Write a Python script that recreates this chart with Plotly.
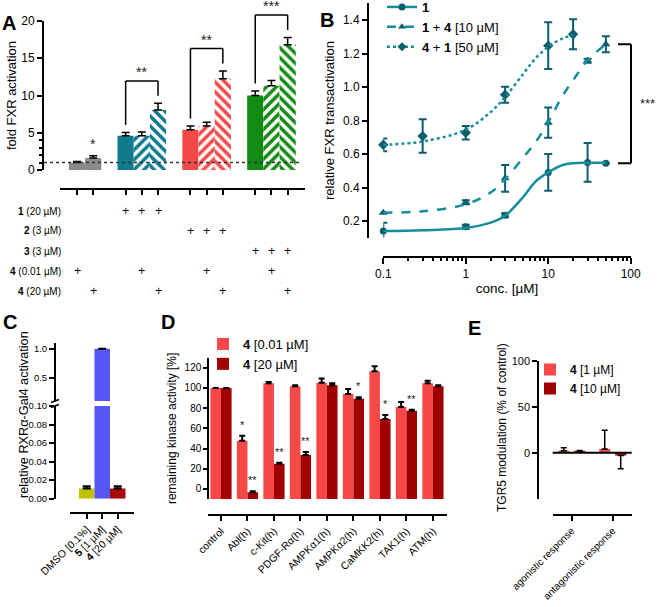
import plotly.graph_objects as go

W, H = 660, 607
def PX(x): return x / W
def PY(y): return 1 - y / H

FONT = "'Liberation Sans', Arial, sans-serif"

# ---------------- DATA ----------------
# Panel A : fold FXR activation, grouped by co-treatment
a_group_values = [[1.0, 1.6], [4.6, 4.6, 8.05], [5.4, 5.9, 12.25], [10.0, 11.3, 16.8]]
a_group_errors = [[0.15, 0.3], [0.45, 0.5, 0.9], [0.5, 0.5, 1.05], [0.6, 0.7, 1.0]]
a_group_stars = ["*", "**", "**", "***"]
a_yticks = [0, 5, 10, 15, 20]
a_row_labels = ["<b>1</b> (20 µM)", "<b>2</b> (3 µM)", "<b>3</b> (3 µM)",
                "<b>4</b> (0.01 µM)", "<b>4</b> (20 µM)"]
a_treatment = [
    [0, 0, 1, 1, 1, 0, 0, 0, 0, 0, 0],
    [0, 0, 0, 0, 0, 1, 1, 1, 0, 0, 0],
    [0, 0, 0, 0, 0, 0, 0, 0, 1, 1, 1],
    [1, 0, 0, 1, 0, 0, 1, 0, 0, 1, 0],
    [0, 1, 0, 0, 1, 0, 0, 1, 0, 0, 1],
]

# Panel B : relative FXR transactivation vs concentration
b_names = ["<b>1</b>", "<b>1</b> + <b>4</b> [10 µM]", "<b>4</b> + <b>1</b> [50 µM]"]
b1_x = [0.1, 1, 3, 10, 30, 50]
b1_y = [0.14, 0.165, 0.235, 0.49, 0.55, 0.545]
b1_e = [0.05, 0.012, 0.012, 0.11, 0.115, None]
b2_x = [0.1, 1, 3, 10, 30, 50]
b2_y = [0.25, 0.312, 0.455, 0.787, 1.157, 1.255]
b2_e = [None, 0.012, 0.08, 0.09, 0.012, 0.048]
b3_x = [0.1, 0.3, 1, 3, 10, 20]
b3_y = [0.655, 0.707, 0.727, 0.954, 1.247, 1.315]
b3_e = [0.038, 0.1, 0.04, 0.048, 0.14, 0.09]
# fitted curves
c1_x = [0.1, 0.3, 1, 2, 3, 5, 7, 10, 15, 20, 30, 50]
c1_y = [0.14, 0.145, 0.158, 0.19, 0.232, 0.345, 0.435, 0.49, 0.534, 0.545, 0.548, 0.548]
c2_x = [0.1, 0.3, 1, 2, 3, 5, 7, 10, 15, 20, 30, 50]
c2_y = [0.25, 0.258, 0.30, 0.37, 0.45, 0.58, 0.67, 0.79, 0.95, 1.04, 1.16, 1.255]
c3_x = [0.1, 0.3, 1, 2, 3, 5, 7, 10, 15, 20]
c3_y = [0.655, 0.675, 0.745, 0.85, 0.94, 1.08, 1.17, 1.24, 1.29, 1.31]
b_xticks = [0.1, 1, 10, 100]
b_yticks = [0.2, 0.4, 0.6, 0.8, 1.0, 1.2, 1.4]

# Panel C : RXRalpha-Gal4 activation
c_labels = ["DMSO [0.1%]", "<b>5</b> [1 µM]", "<b>4</b> [20 µM]"]
c_values = [0.011, 1.0, 0.011]
c_errors = [0.0025, None, 0.0025]
c_low_ticks = [0.0, 0.02, 0.04, 0.06, 0.08, 0.10]
c_high_ticks = [0.5, 1.0]

# Panel D : remaining kinase activity
d_labels = ["control", "Abl(h)", "c-Kit(h)", "PDGF-Rα(h)", "AMPKα1(h)",
            "AMPKα2(h)", "CaMKK2(h)", "TAK1(h)", "ATM(h)"]
d_names = ["<b>4</b> [0.01 µM]", "<b>4</b> [20 µM]"]
d_low = [100, 47.8, 104.5, 101.6, 105.2, 94.0, 116.4, 81.1, 104.5]
d_low_err = [None, 5.0, 1.3, 1.0, 4.0, 5.0, 5.0, 5.0, 2.5]
d_low_stars = ["", "*", "", "", "", "", "", "", ""]
d_high = [100, -3.3, 25.0, 33.6, 102.6, 89.3, 69.2, 77.5, 101.6]
d_high_err = [None, 1.0, 1.0, 3.0, 2.0, 1.5, 4.0, 1.0, 1.0]
d_high_stars = ["", "**", "**", "**", "", "*", "*", "**", ""]
d_yticks = [0, 20, 40, 60, 80, 100, 120]

# Panel E : TGR5 modulation
e_labels = ["agonistic response", "antagonistic response"]
e_names = ["<b>4</b> [1 µM]", "<b>4</b> [10 µM]"]
e_low = [2.0, 4.0]
e_low_err = [3.5, 20.5]
e_high = [1.5, -3.0]
e_high_err = [0.8, 14.5]
e_yticks = [0, 50, 100]

# ---------------- STYLE ----------------
A_COLORS = ['#8a8a8a', '#0f7b8d', '#f44848', '#138a13']
TEAL_LINE = '#178c9c'
TEAL_DARK = '#0c5e6c'
C_COLORS = ['#c2c200', '#5656f2', '#a80a0a']
LIGHT_RED = '#f74848'
DARK_RED = '#a00000'

def f(size, color='black'):
    return dict(size=size, family=FONT, color=color)

fig = go.Figure()

def up_err(errs):
    arr = [e if e is not None else None for e in errs]
    minus = [0 if e is not None else None for e in errs]
    return arr, minus

def note(**kw):
    d = dict(showarrow=False, xanchor='center', yanchor='middle')
    d.update(kw)
    return d

# ---------- Panel A ----------
pos = 0
a_x, a_y, a_e, a_c, a_p = [], [], [], [], []
bounds = []
for gi, (vals, errs) in enumerate(zip(a_group_values, a_group_errors)):
    start = pos
    for bi, (v, e) in enumerate(zip(vals, errs)):
        a_x.append(pos); a_y.append(v); a_e.append(e); a_c.append(A_COLORS[gi])
        a_p.append('' if (len(vals) < 3 or bi == 0) else ('/' if bi == 1 else '\\'))
        pos += 1
    bounds.append((start, pos - 1))
    pos += 1

arr, minus = up_err(a_e)
fig.add_trace(go.Bar(
    x=a_x, y=a_y, width=1.0, xaxis='x', yaxis='y', showlegend=False,
    marker=dict(color=a_c, line=dict(width=0),
                pattern=dict(shape=a_p, fgcolor='black', fgopacity=1, fillmode='overlay',
                             size=7, solidity=0.5)),
    error_y=dict(type='data', symmetric=False, array=arr, arrayminus=minus,
                 color='black', thickness=1.5, width=4)))

A_Y0, A_Y1 = 170, 21  # pixel rows of 0 and 20
def yA(v):
    return PY(A_Y0 + (A_Y1 - A_Y0) * v / 20.0)

shapes = []
annotations = []
# dotted baseline at 1
shapes.append(dict(type='line', xref='paper', yref='y', x0=PX(44), x1=PX(300), y0=1, y1=1,
                   line=dict(color='#333', width=1.5, dash='dot')))
for gi, (s, e) in enumerate(bounds):
    vals = a_group_values[gi]; errs = a_group_errors[gi]
    if len(vals) == 3:
        left = vals[0] + errs[0] + 1.0
        right = vals[-1] + errs[-1] + 1.0
        top = vals[-1] + errs[-1] + 3.0
        for (x0, y0, x1, y1) in [(s, left, s, top), (s, top, e, top), (e, top, e, right)]:
            shapes.append(dict(type='line', xref='x', yref='paper', x0=x0, x1=x1,
                               y0=yA(y0), y1=yA(y1), line=dict(color='black', width=1.5)))
        annotations.append(note(x=(s + e) / 2, xref='x', y=yA(top), yref='paper', yanchor='bottom',
                                yshift=-1, text=a_group_stars[gi], font=f(14, '#222')))
    else:
        annotations.append(note(x=e, xref='x', y=yA(vals[-1] + errs[-1]), yref='paper',
                                yanchor='bottom', yshift=2, text=a_group_stars[gi], font=f(14, '#222')))
# treatment table
for r, row in enumerate(a_treatment):
    ypos = PY(211 + 20 * r)
    annotations.append(note(x=PX(63), xref='paper', xanchor='right', y=ypos, yref='paper',
                            text=a_row_labels[r], font=f(10)))
    for c, flag in enumerate(row):
        if flag:
            annotations.append(note(x=a_x[c], xref='x', y=ypos, yref='paper', text='+', font=f(12.5)))

# ---------- Panel B ----------
for xs, ys, es, sym, size in [(b1_x, b1_y, b1_e, 'circle', 7), (b2_x, b2_y, b2_e, 'triangle-up', 8),
                              (b3_x, b3_y, b3_e, 'diamond', 8)]:
    fig.add_trace(go.Scatter(x=xs, y=ys, mode='markers', xaxis='x2', yaxis='y2', showlegend=False,
                             cliponaxis=False,
                             marker=dict(symbol=sym, size=size, color=TEAL_DARK),
                             error_y=dict(type='data', array=es, color=TEAL_DARK, thickness=2, width=4)))
for xs, ys, dash in [(c1_x, c1_y, 'solid'), (c2_x, c2_y, 'dash'), (c3_x, c3_y, 'dot')]:
    fig.add_trace(go.Scatter(x=xs, y=ys, mode='lines', xaxis='x2', yaxis='y2', showlegend=False,
                             line=dict(color=TEAL_LINE, width=2.5, dash=dash, shape='spline')))
for name, dash, sym in zip(b_names, ['solid', 'dash', 'dot'], ['circle', 'triangle-up', 'diamond']):
    fig.add_trace(go.Scatter(x=[None], y=[None], mode='lines+markers', name=name, xaxis='x2', yaxis='y2',
                             legend='legend',
                             line=dict(color=TEAL_LINE, width=2.5, dash=dash),
                             marker=dict(symbol=sym, size=7, color=TEAL_DARK)))
# significance bracket
for (y0, y1, x0, x1) in [(b2_y[-1], b2_y[-1], PX(618), PX(631)), (b1_y[-1], b1_y[-1], PX(618), PX(631)),
                         (b2_y[-1], b1_y[-1], PX(631), PX(631))]:
    shapes.append(dict(type='line', xref='paper', yref='y2', x0=x0, x1=x1, y0=y0, y1=y1,
                       line=dict(color='black', width=2)))
annotations.append(note(x=PX(647), xref='paper', y=(b2_y[-1] + b1_y[-1]) / 2, yref='y2',
                        text='***', font=f(13, '#222')))

# ---------- Panel C ----------
c_x = list(range(len(c_values)))
arr, minus = up_err(c_errors)
for ya in ['y3', 'y4']:
    fig.add_trace(go.Bar(x=c_x, y=c_values, width=1.0, xaxis='x3', yaxis=ya, showlegend=False,
                         marker=dict(color=C_COLORS, line=dict(width=0)),
                         error_y=dict(type='data', symmetric=False, array=arr, arrayminus=minus,
                                      color='black', thickness=2, width=4)))
# axis break marks
for yy in [401, 406]:
    shapes.append(dict(type='line', xref='paper', yref='paper', x0=PX(51), x1=PX(59),
                       y0=PY(yy + 1.5), y1=PY(yy - 1.5), line=dict(color='black', width=1.5)))
annotations.append(note(x=PX(24), xref='paper', y=PY(415), yref='paper', textangle=-90,
                        text='relative RXRα-Gal4 activation', font=f(12.7)))

# ---------- Panel D ----------
d_x = list(range(len(d_labels)))
for vals, errs, stars, col, name, off in [(d_low, d_low_err, d_low_stars, LIGHT_RED, d_names[0], -0.2),
                                          (d_high, d_high_err, d_high_stars, DARK_RED, d_names[1], 0.2)]:
    arr, minus = up_err(errs)
    fig.add_trace(go.Bar(x=[i + off for i in d_x], y=[v + 10 for v in vals], base=-10, width=0.4,
                         name=name, legend='legend2', xaxis='x5', yaxis='y5',
                         marker=dict(color=col, line=dict(width=0)),
                         error_y=dict(type='data', symmetric=False, array=arr, arrayminus=minus,
                                      color='black', thickness=2, width=3)))
    for i, (v, e, s) in enumerate(zip(vals, errs, stars)):
        if s:
            annotations.append(note(x=i + off, xref='x5', y=v + (e or 0) + 3, yref='y5', yanchor='bottom',
                                    text=s, font=f(11, '#222')))

# ---------- Panel E ----------
e_x = list(range(len(e_labels)))
for vals, errs, col, name, off in [(e_low, e_low_err, LIGHT_RED, e_names[0], -0.195),
                                   (e_high, e_high_err, DARK_RED, e_names[1], 0.195)]:
    arr = [e if v >= 0 else 0 for v, e in zip(vals, errs)]
    minus = [e if v < 0 else 0 for v, e in zip(vals, errs)]
    fig.add_trace(go.Bar(x=[i + off for i in e_x], y=vals, width=0.27, name=name, legend='legend3',
                         xaxis='x6', yaxis='y6', marker=dict(color=col, line=dict(width=0)),
                         error_y=dict(type='data', symmetric=False, array=arr, arrayminus=minus,
                                      color='black', thickness=1.5, width=3)))
shapes.append(dict(type='line', xref='x6 domain', yref='y6', x0=0, x1=1, y0=0, y1=0,
                   line=dict(color='black', width=2), layer='above'))
annotations.append(note(x=PX(502), xref='paper', y=PY(428), yref='paper', textangle=-90,
                        text='TGR5 modulation (% of control)', font=f(12)))

# panel letters
for letter, x, y in [('A', 9, 23), ('B', 327, 20), ('C', 10, 322), ('D', 168, 322), ('E', 474, 328)]:
    annotations.append(note(x=PX(x), y=PY(y), xref='paper', yref='paper', text=f'<b>{letter}</b>',
                            font=f(20)))

# ---------------- AXES ----------------
def ax(**kw):
    base = dict(showline=True, linewidth=2, linecolor='black', ticks='outside', ticklen=5,
                tickwidth=2, tickcolor='black', showgrid=False, zeroline=False, anchor='free',
                automargin=False, tickfont=f(12), title_font=f(13))
    base.update(kw)
    return base

layout = dict(
    width=W, height=H, autosize=False, margin=dict(l=0, r=0, t=0, b=0, pad=0, autoexpand=False),
    paper_bgcolor='white', plot_bgcolor='rgba(0,0,0,0)', barmode='overlay',
    font=dict(family=FONT, color='black'),
    # A
    xaxis=ax(domain=[PX(60), PX(305)], range=[-1.05, 14.07], position=PY(189),
             tickvals=a_x, showticklabels=False),
    yaxis=ax(domain=[PY(A_Y0), PY(A_Y1)], range=[0, 20], position=PX(43), tickvals=a_yticks,
             tickfont=f(12), title=dict(text='fold FXR activation', standoff=1),
             minor=dict(tickvals=[1, 2, 3, 4], ticks='outside', ticklen=3, tickwidth=1.5, tickcolor='black')),
    # B
    xaxis2=ax(type='log', domain=[PX(383.3), PX(630.7)], range=[-1, 2], position=PY(256.7),
              tickvals=b_xticks, ticktext=['0.1', '1', '10', '100'], ticklen=6, tickfont=f(12),
              title=dict(text='conc. [µM]', standoff=2, font=f(13.5)),
              minor=dict(tickvals=[m * 10 ** k for k in (-1, 0, 1) for m in range(2, 10)],
                         ticks='outside', ticklen=3, tickwidth=1.5, tickcolor='black')),
    yaxis2=ax(domain=[PY(237.75), PY(3.25)], range=[0.1, 1.5], position=PX(368), tickvals=b_yticks,
              tickformat='.1f', tickfont=f(12),
              title=dict(text='relative FXR transactivation', standoff=4)),
    # C
    xaxis3=ax(domain=[PX(70), PX(134)], range=[-1.08, 3.05], position=PY(513.3), tickvals=c_x,
              ticktext=c_labels, tickangle=-45, tickfont=f(10.5)),
    yaxis3=ax(domain=[PY(498.7), PY(406)], range=[0, 0.1], position=PX(55), tickvals=c_low_ticks,
              tickformat='.2f', tickfont=f(9.5)),
    yaxis4=ax(domain=[PY(401), PY(343)], range=[0.1, 1.1], position=PX(55), tickvals=c_high_ticks,
              tickformat='.1f', tickfont=f(9.5)),
    # D
    xaxis5=ax(domain=[PX(208), PX(446.7)], range=[-0.49, 8.52], position=PY(515), tickvals=d_x,
              ticktext=d_labels, tickangle=-45, tickfont=f(10.5)),
    yaxis5=ax(domain=[PY(499.1), PY(357.6)], range=[-10, 130], position=PX(208.3), tickvals=d_yticks,
              ticklen=4, tickfont=f(10),
              title=dict(text='remaining kinase activity [%]', standoff=4, font=f(12))),
    # E
    xaxis6=ax(domain=[PX(552.7), PX(631.7)], range=[-0.463, 1.463], position=PY(515), tickvals=e_x,
              ticktext=e_labels, tickangle=-45, tickfont=f(10)),
    yaxis6=ax(domain=[PY(498.7), PY(360.7)], range=[-50, 100], position=PX(538.3), tickvals=e_yticks,
              tickfont=f(11)),
    legend=dict(x=PX(382), y=PY(-8), xanchor='left', yanchor='top', bgcolor='rgba(0,0,0,0)',
                font=f(13), tracegroupgap=0),
    legend2=dict(x=PX(203), y=PY(329), xanchor='left', yanchor='top', bgcolor='rgba(0,0,0,0)',
                 font=f(13)),
    legend3=dict(x=PX(530), y=PY(355), xanchor='left', yanchor='top', bgcolor='rgba(0,0,0,0)',
                 font=f(12)),
    shapes=shapes, annotations=annotations,
)
fig.update_layout(**layout)
fig.write_html("out.html", config={'displayModeBar': False},
               post_script="document.body.style.margin='0';")
